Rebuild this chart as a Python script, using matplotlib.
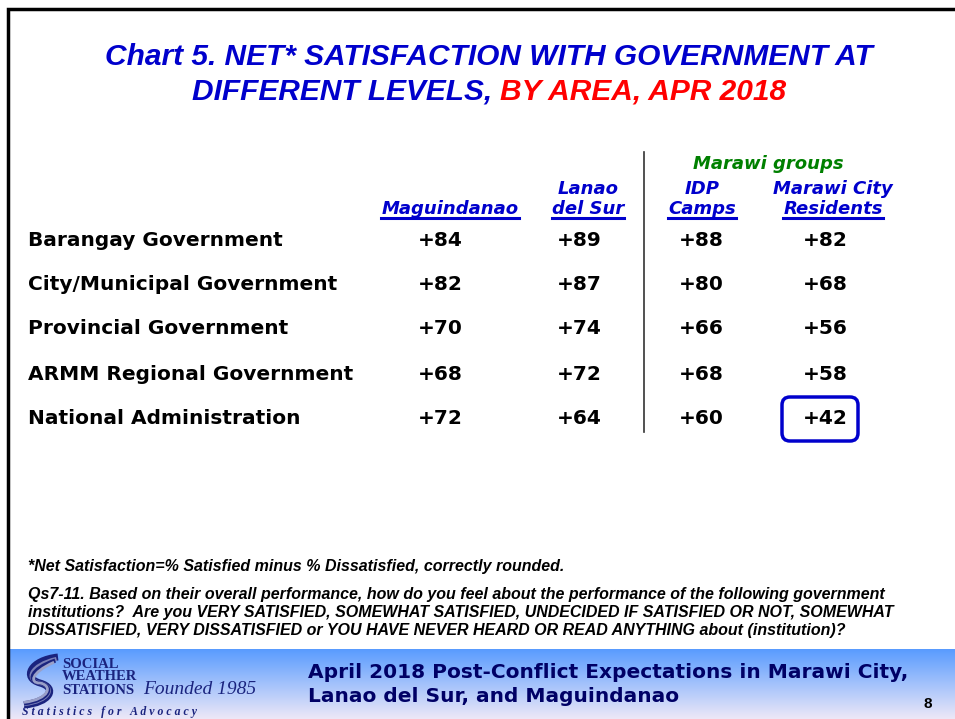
import numpy as np
import matplotlib
matplotlib.use("Agg")
from matplotlib import pyplot as plt
from matplotlib.patches import FancyBboxPatch, PathPatch
from matplotlib.path import Path

rows = ["Barangay Government", "City/Municipal Government", "Provincial Government",
        "ARMM Regional Government", "National Administration"]
cols = [["Maguindanao"], ["Lanao", "del Sur"], ["IDP", "Camps"], ["Marawi City", "Residents"]]
values = [
    [84, 89, 88, 82],
    [82, 87, 80, 68],
    [70, 74, 66, 56],
    [68, 72, 68, 58],
    [72, 64, 60, 42],
]
highlight = (4, 3)

W, H = 955, 719
fig = plt.figure(figsize=(W / 100, H / 100), dpi=100)
ax = fig.add_axes([0, 0, 1, 1])
ax.set_xlim(0, W)
ax.set_ylim(H, 0)
ax.axis("off")

BLUE = "#0000cc"
NAVY = "#000066"
plt.rcParams['font.family'] = ['Liberation Sans', 'DejaVu Sans']
WIDE = "DejaVu Sans"

# slide border
ax.plot([8, 8, W], [H, 9, 9], color="black", lw=2.5, solid_joinstyle="miter")

# title
ax.text(489, 57, "Chart 5. NET* SATISFACTION WITH GOVERNMENT AT", ha="center", va="center",
        fontsize=21.5, fontweight="bold", style="italic", color=BLUE)
t1 = ax.text(0, 92, "DIFFERENT LEVELS, ", ha="left", va="center",
             fontsize=21.5, fontweight="bold", style="italic", color=BLUE)
t2 = ax.text(0, 92, "BY AREA, APR 2018", ha="left", va="center",
             fontsize=21.5, fontweight="bold", style="italic", color="#ff0000")
fig.canvas.draw()
r = fig.canvas.get_renderer()
w1 = t1.get_window_extent(r).width
w2 = t2.get_window_extent(r).width
x0 = 489 - (w1 + w2) / 2
t1.set_x(x0)
t2.set_x(x0 + w1)

head_x = [450, 588, 702, 833]
val_x = [440, 579, 701, 825]
row_y = [240, 284, 329, 374, 418]

# column headers with underline
def underlined(x, y, s):
    t = ax.text(x, y, s, ha="center", va="baseline", fontsize=13, fontweight="bold",
                style="italic", color=BLUE, family=WIDE)
    fig.canvas.draw()
    bb = t.get_window_extent(fig.canvas.get_renderer())
    ax.plot([x - bb.width / 2, x + bb.width / 2], [y + 4, y + 4], color=BLUE, lw=2.2)

for cx, lab in zip(head_x, cols):
    if len(lab) == 1:
        underlined(cx, 214, lab[0])
    else:
        ax.text(cx, 194, lab[0], ha="center", va="baseline", fontsize=13, fontweight="bold",
                style="italic", color=BLUE, family=WIDE)
        underlined(cx, 214, lab[1])

ax.text(768, 164, "Marawi groups", ha="center", va="center", fontsize=13, fontweight="bold",
        style="italic", color="#008000", family=WIDE)
ax.plot([644, 644], [152, 432], color="#333333", lw=1.2)

# rows
for ry, name, vals in zip(row_y, rows, values):
    ax.text(28, ry, name, ha="left", va="center", fontsize=14.5, fontweight="bold",
            color="black", family=WIDE)
    for cx, v in zip(val_x, vals):
        ax.text(cx, ry, "+%d" % v, ha="center", va="center", fontsize=14.5,
                fontweight="bold", color="black", family=WIDE)

hr, hc = highlight
box = FancyBboxPatch((val_x[hc] - 43, row_y[hr] - 21), 76, 44,
                     boxstyle="round,pad=0,rounding_size=8", fill=False,
                     edgecolor=BLUE, lw=2.5)
ax.add_patch(box)

# notes
ax.text(28, 566, "*Net Satisfaction=% Satisfied minus % Dissatisfied, correctly rounded.",
        ha="left", va="center", fontsize=11.5, fontweight="bold", style="italic")
qlines = ["Qs7-11. Based on their overall performance, how do you feel about the performance of the following government",
          "institutions?  Are you VERY SATISFIED, SOMEWHAT SATISFIED, UNDECIDED IF SATISFIED OR NOT, SOMEWHAT",
          "DISSATISFIED, VERY DISSATISFIED or YOU HAVE NEVER HEARD OR READ ANYTHING about (institution)?"]
for i, q in enumerate(qlines):
    ax.text(28, 594 + 18 * i, q, ha="left", va="center", fontsize=11.5, fontweight="bold",
            style="italic")

# footer band
grad = np.linspace(0, 1, 100)[:, None]
c_top = np.array([0.35, 0.61, 1.0])
c_bot = np.array([0.93, 0.91, 0.97])
img = c_top[None, None, :] * (1 - grad[:, :, None]) + c_bot[None, None, :] * grad[:, :, None]
ax.imshow(img, extent=[9, W, H, 649], aspect="auto", zorder=0)
ax.set_xlim(0, W)
ax.set_ylim(H, 0)

ax.text(308, 672, "April 2018 Post-Conflict Expectations in Marawi City,", ha="left", va="center",
        fontsize=14.5, fontweight="bold", color=NAVY, family=WIDE)
ax.text(308, 697, "Lanao del Sur, and Maguindanao", ha="left", va="center",
        fontsize=14.5, fontweight="bold", color=NAVY, family=WIDE)
ax.text(928, 704, "8", ha="center", va="center", fontsize=11, fontweight="bold", color="black")

# logo swoosh: parallel curved stripes
for off, col, lw in [(0, "#1a237e", 5), (5, "#7a80b8", 3), (9, "#1a237e", 3), (13, "#9aa0c8", 2)]:
    verts = [(58 - off * 0.3, 657 + off * 0.4), (30, 660 + off), (22 + off * 0.6, 678 + off * 0.4),
             (40, 683), (58 - off * 0.4, 688 - off * 0.2), (50, 703 - off * 0.3), (24, 705 - off * 0.2)]
    codes = [Path.MOVETO] + [Path.CURVE4] * 6
    ax.add_patch(PathPatch(Path(verts, codes), fill=False, edgecolor=col, lw=lw, capstyle="butt"))
for y, s in [(664, "SOCIAL"), (677, "WEATHER"), (690, "STATIONS")]:
    ax.text(62, y, s, ha="left", va="center", fontsize=10.5, fontweight="bold",
            family="Liberation Serif", color="#1a237e")
ax.text(143, 690, "Founded 1985", ha="left", va="center", fontsize=14, style="italic",
        family="Liberation Serif", color="#1a237e")
ax.text(22, 712, "S t a t i s t i c s   f o r   A d v o c a c y", ha="left", va="center",
        fontsize=8.5, fontweight="bold", style="italic", family="Liberation Serif", color="#1a237e")

fig.savefig("out.png", dpi=100)
